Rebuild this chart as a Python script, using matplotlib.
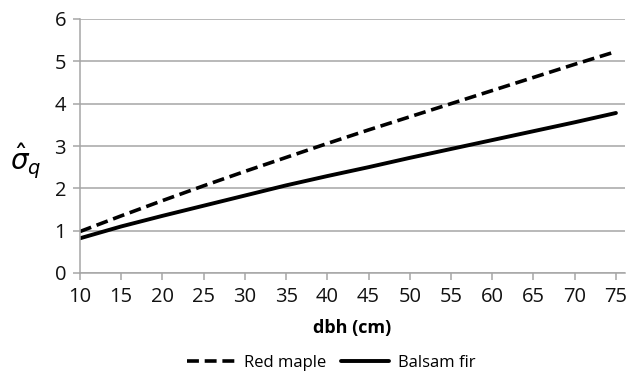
import numpy as np
import matplotlib.pyplot as plt

plt.rcParams['font.family'] = ['Open Sans', 'DejaVu Sans']

# dbh (cm) and estimated sigma_q for each species
dbh = [10, 15, 20, 25, 30, 35, 40, 45, 50, 55, 60, 65, 70, 75]
red_maple = [0.98, 1.35, 1.71, 2.06, 2.40, 2.73, 3.06, 3.38, 3.69, 4.00, 4.31, 4.62, 4.93, 5.23]
balsam_fir = [0.82, 1.10, 1.35, 1.59, 1.83, 2.07, 2.29, 2.50, 2.72, 2.93, 3.14, 3.35, 3.56, 3.78]

xticks = list(range(10, 80, 5))
yticks = list(range(0, 7))

fig = plt.figure(figsize=(6.33, 3.75), dpi=100)
ax = fig.add_axes([80/633, 1-273/375, (625-80)/633, (273-19)/375])

grid_c = '#a6a6a6'
ax.plot(dbh, red_maple, color='black', lw=2.6, dashes=[3.3, 1.6], label='Red maple',
        solid_capstyle='butt', dash_capstyle='butt')
ax.plot(dbh, balsam_fir, color='black', lw=2.8, label='Balsam fir', solid_capstyle='round')

ax.set_xlim(10, 76.1)
ax.set_ylim(0, 6)
ax.set_xticks(xticks)
ax.set_yticks(yticks)
ax.yaxis.grid(True, color=grid_c, lw=1.1)
ax.set_axisbelow(True)
for s in ['top', 'right']:
    ax.spines[s].set_visible(False)
for s in ['left', 'bottom']:
    ax.spines[s].set_color(grid_c)
    ax.spines[s].set_linewidth(1.1)
ax.tick_params(axis='both', color=grid_c, length=5, width=1.1, labelsize=14.5, pad=5,
               labelcolor='#111111')

ax.set_xlabel('dbh (cm)', fontsize=13, fontweight='bold', labelpad=9)
ax.set_ylabel(r'$\hat{\sigma}_q$', fontsize=20, rotation=0, va='center', ha='center')
ax.yaxis.set_label_coords(-0.10, 0.44)

fig.legend(loc='center', bbox_to_anchor=(331/633, 1-363/375), ncol=2, frameon=False,
           fontsize=12, handlelength=2.9, handletextpad=0.5, columnspacing=0.9)

fig.savefig('out.png', dpi=100)
